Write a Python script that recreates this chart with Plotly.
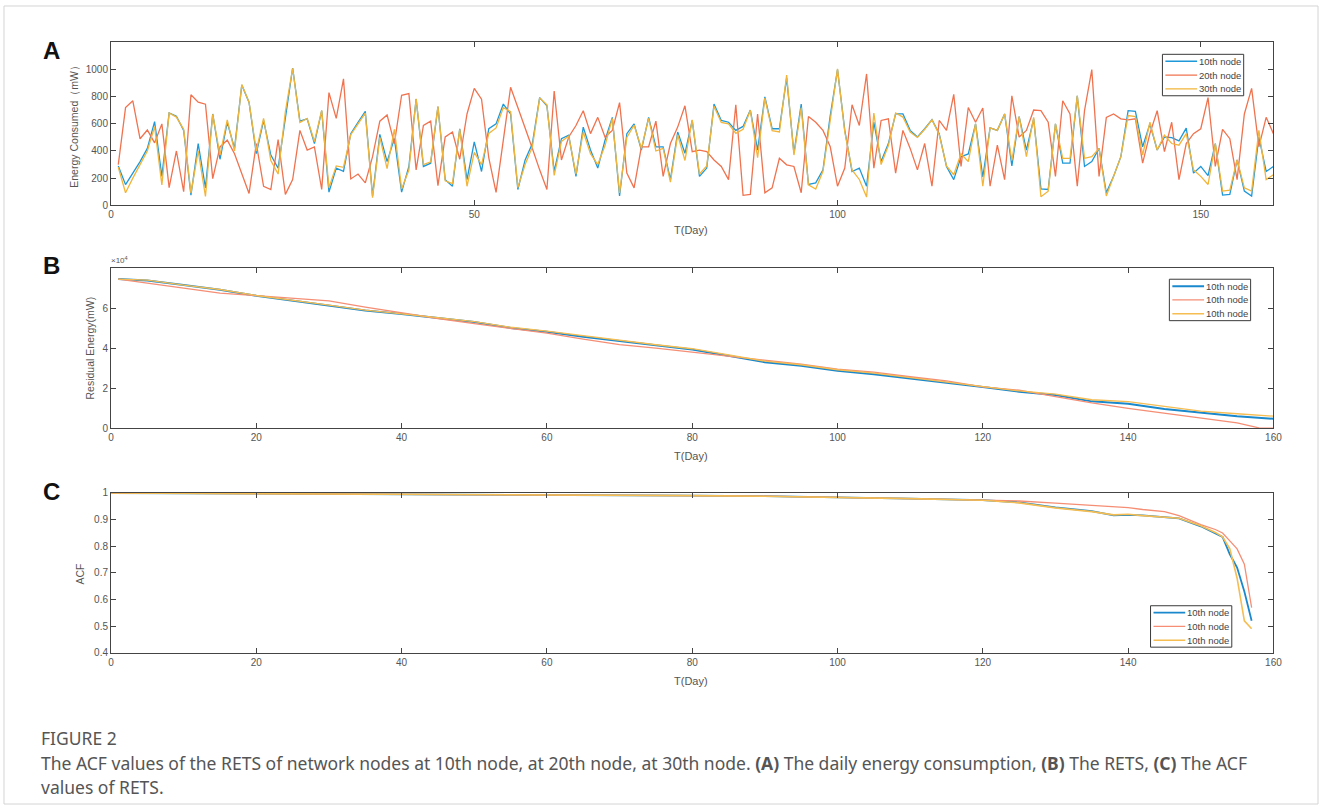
import plotly.graph_objects as go

W, H = 1328, 811

# ---------------- Panel A: daily energy consumption (mW) ----------------
days_A = list(range(1, 161))
node10_A = [290,152,237,322,419,617,213,680,656,552,75,455,128,673,339,612,419,886,758,380,
            625,370,273,650,1012,620,637,455,697,97,274,250,528,612,692,68,523,322,491,97,
            286,782,286,310,726,189,140,564,189,467,
            249,564,600,746,673,116,334,455,794,733,249,491,516,213,576,407,274,479,648,68,
            528,600,407,648,431,431,189,540,383,625,213,274,746,625,612,552,581,702,407,799,
            564,564,939,383,746,153,165,261,661,1000,552,249,274,140,612,322,455,673,673,552,
            503,564,630,528,286,189,358,378,600,208,571,552,673,290,654,407,637,121,116,600,
            310,310,806,286,322,419,92,213,358,697,692,431,600,407,503,499,475,569,237,286,
            218,455,75,80,334,104,68,503,249,286]
node20_A = [300,720,770,490,555,460,600,130,400,100,815,760,745,196,430,480,380,240,87,455,
            140,116,484,80,190,552,407,430,116,830,640,932,194,230,165,358,620,666,455,811,
            823,261,588,620,145,504,540,339,673,862,
            782,350,95,480,870,720,576,419,261,116,842,334,503,588,697,528,648,503,552,757,
            237,128,431,431,620,213,455,576,733,395,407,395,334,286,189,741,73,80,673,92,
            128,346,298,286,92,654,612,552,431,140,274,741,588,968,274,625,637,
            237,552,419,261,455,140,625,552,818,286,721,612,717,140,443,189,806,503,552,702,
            697,612,213,770,673,140,697,1000,213,648,673,637,630,637,310,528,697,395,612,189,
            455,528,564,794,286,559,491,189,673,862,431,648,528]
node30_A = [280,92,200,300,400,580,150,680,650,560,90,400,65,670,370,630,400,890,760,400,
            640,330,230,690,1010,610,640,470,700,130,290,280,520,600,680,55,500,270,560,120,
            260,785,300,320,730,180,160,560,140,390,
            300,530,570,720,690,130,300,430,790,740,220,470,510,230,540,380,300,440,640,90,
            500,590,420,640,400,420,170,520,330,630,230,290,730,610,600,530,560,700,350,790,
            550,540,960,370,720,150,120,250,640,1005,540,260,190,60,680,300,440,680,650,540,
            500,560,630,520,290,225,380,322,600,140,571,552,673,330,654,358,648,63,104,600,
            346,346,806,346,358,419,68,213,358,661,654,370,612,407,516,455,443,528,261,213,
            153,455,104,111,334,128,104,552,189,225]
names_A = ["10th node", "20th node", "30th node"]

# ---------------- Panel B: residual energy (mW) ----------------
days_B = [1,5,10,15,20,25,30,35,40,45,50,55,60,65,70,75,80,85,90,95,100,105,110,115,120,
          125,130,135,140,145,150,155,160]
days_B_orange = [1,5,10,15,20,25,30,35,40,45,50,55,60,65,70,75,80,85,90,95,100,105,110,115,120,
                 125,130,135,140,145,150,155,158,160]
res_blue = [74500,73800,71500,69200,66200,63800,61200,58800,57000,55000,53000,50100,48200,45700,
            43600,41200,39300,36200,33000,31200,28700,27000,24900,22500,20600,18200,16600,13400,
            12200,9600,7700,6000,4700]
res_orange = [74500,72500,70200,67500,66200,65000,63600,60500,57500,54800,52200,49800,47500,44500,
              41800,40000,38000,36000,33800,32000,29500,28000,25700,23600,20600,19000,15800,12600,
              9900,7500,5100,2700,200,0]
res_yellow = [74500,74000,71500,69300,66300,64000,61500,59000,57200,55200,53200,50500,48500,46200,
              44000,41700,39700,36500,33500,31700,29200,27500,25200,23000,20800,18600,17000,14200,
              13300,10900,8500,7200,6000]
names_B = ["10th node", "10th node", "10th node"]

# ---------------- Panel C: ACF ----------------
lags_C = [0,10,20,30,40,50,60,70,80,90,100,110,120,125,130,135,138,140,142,145,147,150,152,153,
          154,155,156,157]
acf_blue = [1.0,0.999,0.998,0.997,0.996,0.995,0.993,0.992,0.99,0.988,0.984,0.979,0.973,0.965,0.946,
            0.932,0.916,0.918,0.916,0.91,0.905,0.875,0.85,0.835,0.77,0.72,0.63,0.52]
acf_orange = [1.0,0.999,0.998,0.997,0.996,0.995,0.993,0.992,0.99,0.988,0.984,0.979,0.973,0.97,0.962,
              0.953,0.948,0.945,0.938,0.93,0.915,0.881,0.863,0.85,0.82,0.79,0.733,0.57]
acf_yellow = [1.0,0.999,0.998,0.997,0.996,0.995,0.993,0.992,0.99,0.988,0.984,0.979,0.973,0.963,0.944,
              0.93,0.918,0.92,0.915,0.908,0.905,0.877,0.852,0.835,0.79,0.68,0.52,0.49]
names_C = ["10th node", "10th node", "10th node"]

BLUE = "#1e98d8"
ORANGE = "#f0734f"
YELLOW = "#f2b53a"
BLUE_B = "#1a88cc"
ORANGE_B = "#f58e74"
YELLOW_B = "#f5bd52"

FONT = "Liberation Sans, Arial, sans-serif"
TICKC = "#555555"
AXC = "#444444"

fig = go.Figure()

styles_A = [(BLUE, 1.3), (ORANGE, 1.3), (YELLOW, 1.3)]
styles_B = [(BLUE_B, 2.0), (ORANGE_B, 1.3), (YELLOW_B, 1.3)]
styles_C = [(BLUE_B, 1.8), (ORANGE_B, 1.3), (YELLOW_B, 1.6)]

for ys, nm, (c, w) in zip([node10_A, node20_A, node30_A], names_A, styles_A):
    fig.add_trace(go.Scatter(x=days_A, y=ys, mode="lines", name=nm, showlegend=False,
                             line=dict(color=c, width=w), xaxis="x", yaxis="y"))
for xs, ys, nm, (c, w) in zip([days_B, days_B_orange, days_B], [res_blue, res_orange, res_yellow],
                              names_B, styles_B):
    fig.add_trace(go.Scatter(x=xs, y=ys, mode="lines", name=nm, showlegend=False,
                             line=dict(color=c, width=w), xaxis="x2", yaxis="y2"))
for ys, nm, (c, w) in zip([acf_blue, acf_orange, acf_yellow], names_C, styles_C):
    fig.add_trace(go.Scatter(x=lags_C, y=ys, mode="lines", name=nm, showlegend=False,
                             line=dict(color=c, width=w), xaxis="x3", yaxis="y3"))

xdom = [109 / W, 1282 / W]

def ydom(top, bottom):
    return [1 - bottom / H, 1 - top / H]

common_axis = dict(showline=True, linecolor=AXC, linewidth=1, mirror="allticks",
                   ticks="inside", ticklen=5, tickcolor=AXC, showgrid=False, zeroline=False,
                   tickfont=dict(family=FONT, size=10, color=TICKC))

fig.update_layout(
    width=W, height=H,
    margin=dict(l=0, r=0, t=0, b=0),
    paper_bgcolor="white", plot_bgcolor="white",
    font=dict(family=FONT),
    showlegend=False,
    xaxis=dict(domain=xdom, range=[0, 160], tickvals=[0, 50, 100, 150], anchor="y", **common_axis),
    yaxis=dict(domain=ydom(38, 203), range=[0, 1200], tickvals=[0, 200, 400, 600, 800, 1000],
               anchor="x", **common_axis),
    xaxis2=dict(domain=xdom, range=[0, 160], tickvals=list(range(0, 161, 20)), anchor="y2", **common_axis),
    yaxis2=dict(domain=ydom(266.7, 429), range=[0, 80000], tickvals=[0, 20000, 40000, 60000],
                ticktext=["0", "2", "4", "6"], anchor="x2", **common_axis),
    xaxis3=dict(domain=xdom, range=[0, 160], tickvals=list(range(0, 161, 20)), anchor="y3", **common_axis),
    yaxis3=dict(domain=ydom(494.7, 656.7), range=[0.4, 1.0],
                tickvals=[0.4, 0.5, 0.6, 0.7, 0.8, 0.9, 1.0],
                ticktext=["0.4", "0.5", "0.6", "0.7", "0.8", "0.9", "1"], anchor="x3", **common_axis),
)

def ann(text, x, y, size, color="#555555", bold=False, angle=0, xanchor="center", family=FONT):
    if bold:
        text = "<b>" + text + "</b>"
    fig.add_annotation(text=text, x=x / W, y=1 - y / H, xref="paper", yref="paper",
                       showarrow=False, textangle=angle, xanchor=xanchor, yanchor="middle",
                       font=dict(family=family, size=size, color=color))

# MATLAB-style compact legend boxes (box, line samples, labels)
def legend_box(x0, y0, x1, y1, names, styles):
    fig.add_shape(type="rect", xref="paper", yref="paper", layer="above",
                  x0=x0 / W, x1=x1 / W, y0=1 - y1 / H, y1=1 - y0 / H,
                  fillcolor="white", line=dict(color="#3a3a3a", width=1))
    step = (y1 - y0) / 3.0
    for i, (nm, (c, w)) in enumerate(zip(names, styles)):
        yc = y0 + step * (i + 0.5)
        fig.add_shape(type="line", xref="paper", yref="paper", layer="above",
                      x0=(x0 + 3) / W, x1=(x0 + 35) / W, y0=1 - yc / H, y1=1 - yc / H,
                      line=dict(color=c, width=w))
        ann(nm, x1 - 1, yc, 9.5, color="#444444", xanchor="right")

legend_box(1170, 50, 1252, 92, names_A, styles_A)
legend_box(1177, 278, 1259, 320, names_B, styles_B)
legend_box(1158, 609, 1240, 651, names_C, styles_C)

# panel letters
ann("A", 49, 46, 24, color="#111111", bold=True)
ann("B", 49, 264, 24, color="#111111", bold=True)
ann("C", 49, 493, 24, color="#111111", bold=True)

# axis titles
ann("Energy Consumed（mW）", 72, 120, 10.5, angle=-90)
ann("Residual Energy(mW)", 88, 348, 10.5, angle=-90)
ann("ACF", 78, 577, 10.5, angle=-90)
ann("T(Day)", 694, 228, 11)
ann("T(Day)", 694, 457, 11)
ann("T(Day)", 694, 685, 11)
ann("×10<sup>4</sup>", 107, 259, 8, xanchor="left")

# caption
CAP = "Noto Sans, Open Sans, sans-serif"
ann("FIGURE 2", 36, 743, 17.5, color="#555555", xanchor="left", family=CAP)
ann("The ACF values of the RETS of network nodes at 10th node, at 20th node, at 30th node. "
    "<b>(A)</b> The daily energy consumption, <b>(B)</b> The RETS, <b>(C)</b> The ACF",
    36, 768, 17.5, color="#555555", xanchor="left", family=CAP)
ann("values of RETS.", 36, 793, 17.5, color="#555555", xanchor="left", family=CAP)

# outer card border
fig.add_shape(type="rect", xref="paper", yref="paper", x0=1 / W, x1=1 - 1 / W, y0=1 / H, y1=1 - 1 / H,
              line=dict(color="#d4d4d4", width=1))

fig.write_html("out.html")
